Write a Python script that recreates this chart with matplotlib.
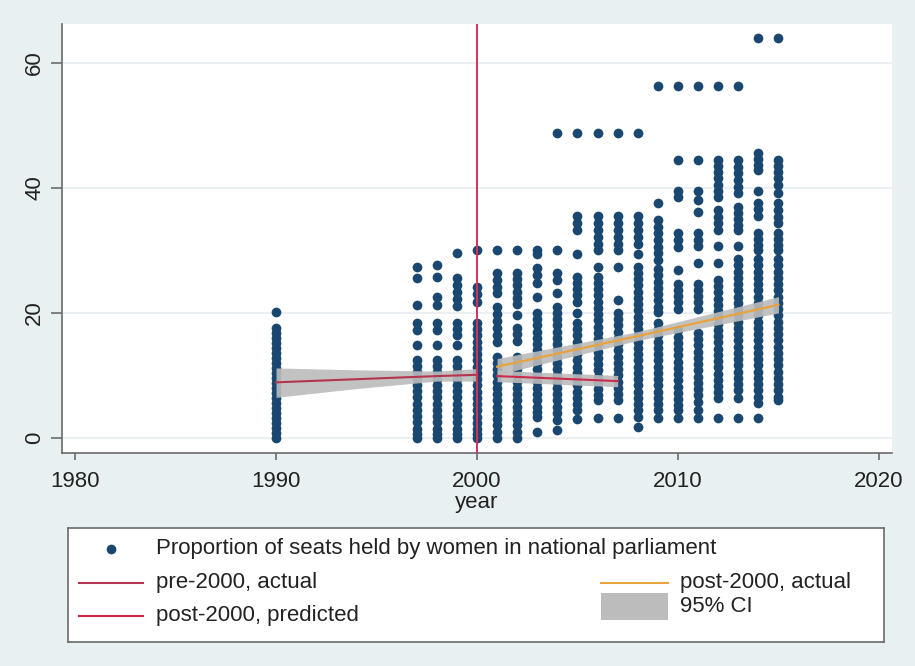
import matplotlib
matplotlib.use("Agg")
import matplotlib.pyplot as plt
from matplotlib.lines import Line2D
from matplotlib.patches import Rectangle

plt.rcParams['font.family'] = ['Liberation Sans', 'DejaVu Sans']

# scatter data: proportion of seats held by women, one list per year
years = [1990, 1997, 1998, 1999, 2000, 2001, 2002, 2003, 2004, 2005,
         2006, 2007, 2008, 2009, 2010, 2011, 2012, 2013, 2014, 2015]
y1990 = [20.2, 17.6, 16.8, 16.0, 15.2, 14.4, 13.6, 12.8, 12.0, 11.2, 10.4, 9.6, 8.8, 8.0, 7.2, 6.4, 5.6, 4.8, 4.0, 3.2, 2.4, 1.6, 0.8, 0.0]
y1997 = [27.4, 25.6, 21.3, 18.4, 17.2, 14.9, 12.5, 11.5, 10.5, 9.5, 8.5, 7.5, 6.5, 5.5, 4.5, 3.5, 2.5, 1.5, 0.7, 0.0]
y1998 = [27.7, 25.8, 22.6, 21.3, 18.4, 17.2, 14.9, 12.5, 11.5, 10.5, 9.5, 8.5, 7.5, 6.5, 5.5, 4.5, 3.5, 2.5, 1.5, 0.7, 0.0]
y1999 = [29.6, 25.6, 24.4, 23.3, 22.2, 21.1, 18.4, 17.4, 16.5, 14.9, 12.5, 11.5, 10.5, 9.5, 8.5, 7.5, 6.5, 5.5, 4.5, 3.5, 2.5, 1.5, 0.7, 0.0]
y2000 = [30.1, 24.2, 23.0, 21.8, 18.4, 17.4, 16.4, 15.4, 14.4, 13.4, 12.4, 11.4, 10.4, 9.4, 8.4, 7.4, 6.4, 5.4, 4.4, 3.4, 2.4, 1.4, 0.6, 0.0]
y2001 = [30.1, 26.4, 25.3, 24.2, 23.2, 20.9, 19.8, 18.7, 17.6, 16.5, 15.4, 13.0, 12.0, 11.0, 10.0, 9.0, 8.0, 7.0, 6.0, 5.0, 4.0, 3.0, 2.0, 1.0, 0.0]
y2002 = [30.1, 26.4, 25.4, 24.4, 23.4, 22.4, 21.5, 19.7, 17.6, 16.6, 15.5, 13.0, 12.0, 11.0, 10.0, 9.0, 8.0, 7.0, 6.0, 5.0, 4.0, 3.0, 2.0, 1.0, 0.0]
y2003 = [30.1, 29.5, 27.2, 26.0, 24.8, 22.6, 20.0, 19.0, 18.0, 17.0, 16.0, 15.0, 14.0, 13.0, 12.0, 11.0, 10.0, 9.0, 8.0, 7.0, 6.0, 5.0, 4.2, 3.4, 1.0]
y2004 = [48.7, 30.1, 26.4, 25.3, 23.2, 21.0, 20.0, 19.0, 18.0, 17.0, 16.0, 15.0, 14.0, 13.0, 12.0, 11.0, 10.0, 9.0, 8.0, 7.0, 6.0, 5.0, 4.0, 2.9, 1.3]
y2005 = [48.7, 35.5, 34.4, 33.3, 29.5, 25.8, 24.8, 23.8, 22.8, 21.8, 20.0, 18.4, 17.4, 16.4, 15.4, 14.4, 13.4, 12.4, 11.4, 10.4, 9.4, 8.4, 7.4, 6.4, 5.4, 4.4, 3.0]
y2006 = [48.7, 35.5, 34.4, 33.3, 32.2, 31.1, 30.1, 27.4, 25.8, 24.8, 23.8, 22.8, 21.8, 20.8, 19.8, 18.8, 17.8, 16.8, 15.8, 14.8, 13.8, 12.8, 11.8, 10.8, 9.8, 8.8, 7.8, 6.8, 6.1, 3.2]
y2007 = [48.7, 35.5, 34.4, 33.3, 32.2, 31.1, 30.1, 27.4, 22.1, 20.0, 19.0, 18.0, 17.0, 16.0, 15.0, 14.0, 13.0, 12.0, 11.0, 10.0, 9.0, 8.0, 7.0, 6.1, 3.2]
y2008 = [48.7, 35.5, 34.4, 33.3, 32.2, 31.1, 29.5, 27.4, 26.4, 25.4, 24.4, 23.4, 22.4, 21.4, 20.4, 19.4, 18.4, 17.4, 16.4, 15.4, 14.4, 13.4, 12.4, 11.4, 10.4, 9.4, 8.4, 7.4, 6.4, 5.4, 4.4, 3.4, 1.8]
y2009 = [56.3, 37.6, 34.9, 33.8, 32.7, 31.6, 30.6, 29.6, 28.5, 27.0, 26.0, 25.0, 24.0, 23.0, 22.0, 21.0, 20.2, 18.4, 17.4, 16.4, 15.4, 14.4, 13.4, 12.4, 11.4, 10.4, 9.4, 8.4, 7.4, 6.4, 5.4, 4.5, 3.2]
y2010 = [56.3, 44.5, 39.5, 38.5, 32.8, 31.7, 30.6, 26.9, 24.7, 23.7, 22.7, 21.7, 20.7, 17.2, 16.2, 15.2, 14.2, 13.2, 12.2, 11.2, 10.2, 9.2, 8.2, 7.2, 6.2, 5.2, 4.5, 3.2]
y2011 = [56.3, 44.5, 39.5, 38.0, 36.2, 32.8, 31.7, 30.7, 28.0, 24.7, 23.7, 22.7, 21.7, 20.7, 16.8, 15.8, 14.8, 13.8, 12.8, 11.8, 10.8, 9.8, 8.8, 7.8, 6.8, 5.8, 4.5, 3.2]
y2012 = [56.3, 44.5, 43.5, 42.5, 41.5, 40.5, 39.5, 38.5, 36.5, 35.4, 34.3, 33.3, 30.7, 28.0, 25.3, 24.3, 23.3, 22.3, 21.3, 20.3, 19.3, 18.3, 17.3, 16.3, 15.3, 14.3, 13.3, 12.3, 11.3, 10.3, 9.3, 8.3, 7.3, 6.4, 3.2]
y2013 = [56.3, 44.5, 43.4, 42.3, 41.2, 40.2, 39.2, 37.0, 36.0, 35.0, 34.0, 33.3, 30.7, 28.6, 27.6, 26.6, 25.6, 24.6, 23.6, 22.6, 21.6, 20.6, 19.6, 18.6, 17.6, 16.6, 15.6, 14.6, 13.6, 12.6, 11.6, 10.6, 9.6, 8.6, 7.6, 6.4, 3.2]
y2014 = [64.0, 45.6, 44.6, 43.6, 42.9, 39.5, 37.6, 36.6, 35.5, 32.8, 31.8, 30.8, 30.1, 28.6, 27.6, 26.6, 25.6, 24.6, 23.6, 22.6, 21.6, 20.6, 19.6, 18.6, 17.6, 16.6, 15.6, 14.6, 13.6, 12.6, 11.6, 10.6, 9.6, 8.6, 7.6, 6.6, 5.6, 3.2]
y2015 = [64.0, 44.5, 43.5, 42.5, 41.5, 40.5, 39.2, 37.6, 36.5, 35.4, 34.4, 32.8, 31.8, 30.8, 30.1, 28.6, 27.6, 26.6, 25.6, 24.6, 23.6, 22.6, 21.6, 20.6, 19.6, 18.6, 17.6, 16.6, 15.6, 14.6, 13.6, 12.6, 11.6, 10.6, 9.6, 8.6, 7.6, 6.6, 6.0]
columns = [y1990, y1997, y1998, y1999, y2000, y2001, y2002, y2003, y2004, y2005,
           y2006, y2007, y2008, y2009, y2010, y2011, y2012, y2013, y2014, y2015]

# fitted lines and 95% CI
pre_x = [1990, 1994, 1998, 2000]
pre_fit = [8.9, 9.4, 9.9, 10.1]
pre_lo = [6.5, 7.9, 9.1, 9.1]
pre_hi = [11.2, 10.9, 10.7, 11.1]

post_x = [2001, 2008, 2015]
post_fit = [11.4, 16.3, 21.3]
post_lo = [10.1, 15.6, 20.0]
post_hi = [12.7, 17.0, 22.6]

pred_x = [2001, 2007]
pred_fit = [9.9, 9.1]
pred_lo = [9.0, 8.2]
pred_hi = [10.8, 10.0]

cutoff_year = 2000

navy = '#1a476f'
bg = '#e9f0f2'
ci_color = '#bcbcbc'
pre_color = '#b5344f'
pred_color = '#cc2a4c'
post_color = '#e8a33d'
vline_color = '#d8305e'
txt = '#222222'
fs = 16

fig = plt.figure(figsize=(9.15, 6.66), dpi=100)
fig.patch.set_facecolor(bg)
ax = fig.add_axes([62 / 915, 1 - 453 / 666, 830 / 915, 429 / 666])
ax.set_facecolor('white')

for yr, vals in zip(years, columns):
    ax.plot([yr] * len(vals), vals, 'o', color=navy, ms=7, mew=0, zorder=2)

ax.fill_between(pre_x, pre_lo, pre_hi, color=ci_color, alpha=0.9, lw=0, zorder=3)
ax.fill_between(post_x, post_lo, post_hi, color=ci_color, alpha=0.9, lw=0, zorder=3)
ax.fill_between(pred_x, pred_lo, pred_hi, color=ci_color, alpha=0.9, lw=0, zorder=3)
ax.plot(pre_x, pre_fit, color=pre_color, lw=1.5, zorder=4)
ax.plot(post_x, post_fit, color=post_color, lw=1.6, zorder=4)
ax.plot(pred_x, pred_fit, color=pred_color, lw=1.5, zorder=4)
ax.axvline(cutoff_year, color=vline_color, lw=1.4, zorder=5)

ax.set_xlim(1979.35, 2020.65)
ax.set_ylim(-2.4, 66.2)
ax.set_xticks([1980, 1990, 2000, 2010, 2020])
ax.set_yticks([0, 20, 40, 60])
ax.grid(axis='y', color='#e8eff1', lw=1.2, zorder=0)
ax.set_axisbelow(True)
for s in ['top', 'right']:
    ax.spines[s].set_visible(False)
for s in ['left', 'bottom']:
    ax.spines[s].set_color('#6a6a6a')
    ax.spines[s].set_linewidth(1.2)
ax.tick_params(axis='both', colors='#6a6a6a', labelcolor=txt, labelsize=fs, width=1.2)
ax.tick_params(axis='y', length=8, pad=4)
ax.tick_params(axis='x', length=5, pad=8)
for lab in ax.get_yticklabels():
    lab.set_rotation(90)
    lab.set_va('center')
ax.set_xlabel('year', fontsize=fs, color=txt, labelpad=0)

# legend box drawn by hand (Stata places the second column under the long first entry)
lax = fig.add_axes([68 / 915, 1 - 642 / 666, 816 / 915, 114 / 666])
lax.set_xlim(0, 1)
lax.set_ylim(0, 1)
lax.set_xticks([])
lax.set_yticks([])
lax.set_facecolor('white')
for s in lax.spines.values():
    s.set_color('#6a6a6a')
    s.set_linewidth(1.2)

row1, row2, row3 = 0.816, 0.52, 0.23
col2_row2, col2_row3 = 0.52, 0.31
lax.add_line(Line2D([0.0527], [row1], marker='o', color=navy, ms=7, mew=0))
lax.text(0.108, row1, 'Proportion of seats held by women in national parliament',
         fontsize=fs, va='center', color=txt)
lax.add_line(Line2D([0.0135, 0.092], [row2, row2], color=pre_color, lw=1.5))
lax.text(0.108, row2, 'pre-2000, actual', fontsize=fs, va='center', color=txt)
lax.add_line(Line2D([0.0135, 0.092], [row3, row3], color=pred_color, lw=1.5))
lax.text(0.108, row3, 'post-2000, predicted', fontsize=fs, va='center', color=txt)
lax.add_line(Line2D([0.653, 0.735], [col2_row2, col2_row2], color=post_color, lw=1.5))
lax.text(0.75, col2_row2, 'post-2000, actual', fontsize=fs, va='center', color=txt)
lax.add_patch(Rectangle((0.653, col2_row3 - 0.12), 0.082, 0.24, color=ci_color, lw=0))
lax.text(0.75, col2_row3, '95% CI', fontsize=fs, va='center', color=txt)

fig.savefig('out.png', dpi=100, facecolor=bg)
